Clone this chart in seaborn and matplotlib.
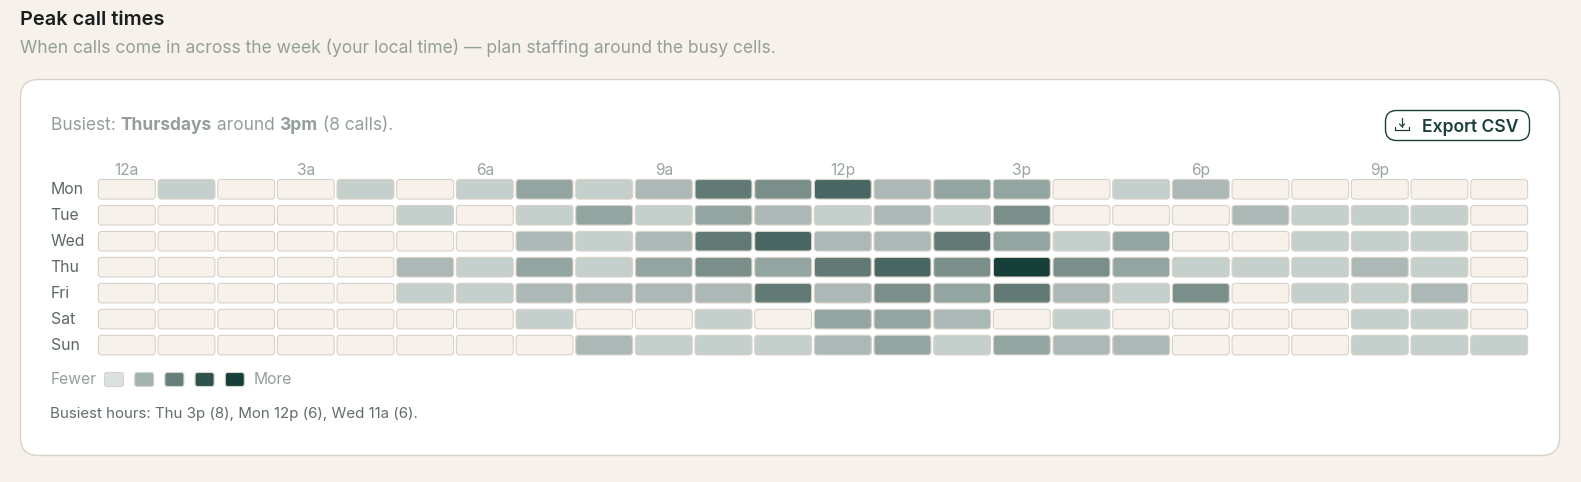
import numpy as np
import pandas as pd
import seaborn as sns
import matplotlib.pyplot as plt
from matplotlib.colors import ListedColormap
from matplotlib.patches import FancyBboxPatch

days = ['Mon', 'Tue', 'Wed', 'Thu', 'Fri', 'Sat', 'Sun']
hour_labels = ['12a', '', '', '3a', '', '', '6a', '', '', '9a', '', '',
               '12p', '', '', '3p', '', '', '6p', '', '', '9p', '', '']
mon = [0, 1, 0, 0, 1, 0, 1, 3, 1, 2, 5, 4, 6, 2, 3, 3, 0, 1, 2, 0, 0, 0, 0, 0]
tue = [0, 0, 0, 0, 0, 1, 0, 1, 3, 1, 3, 2, 1, 2, 1, 4, 0, 0, 0, 2, 1, 1, 1, 0]
wed = [0, 0, 0, 0, 0, 0, 0, 2, 1, 2, 5, 6, 2, 2, 5, 3, 1, 3, 0, 0, 1, 1, 1, 0]
thu = [0, 0, 0, 0, 0, 2, 1, 3, 1, 3, 4, 3, 5, 6, 4, 8, 4, 3, 1, 1, 1, 2, 1, 0]
fri = [0, 0, 0, 0, 0, 1, 1, 2, 2, 2, 2, 5, 2, 4, 3, 5, 2, 1, 4, 0, 1, 1, 2, 0]
sat = [0, 0, 0, 0, 0, 0, 0, 1, 0, 0, 1, 0, 3, 3, 2, 0, 1, 0, 0, 0, 0, 1, 1, 0]
sun = [0, 0, 0, 0, 0, 0, 0, 0, 2, 1, 1, 1, 2, 3, 1, 3, 2, 2, 0, 0, 0, 1, 1, 1]

count_colors = ['#f6f1ea', '#c5cfcc', '#abb8b6', '#93a5a1', '#7b8f8a',
                '#617a75', '#486762', '#2f524d', '#163f39']
legend_colors = ['#dbe1df', '#a3b2af', '#667f7b', '#2f524d', '#163f39']

BG = '#f6f1ea'
BORDER = '#d9d2c8'
MUTED = '#949e9a'
W, H = 1581, 482

sns.set_theme(style='white')
plt.rcParams['font.family'] = ['Inter', 'DejaVu Sans']


def px(size):
    return size * 72 / 100


df = pd.DataFrame([mon, tue, wed, thu, fri, sat, sun], index=days)

fig = plt.figure(figsize=(W / 100, H / 100), dpi=100, facecolor=BG)

# page furniture, in pixel coordinates
page = fig.add_axes([0, 0, 1, 1], zorder=0)
page.set_xlim(0, W)
page.set_ylim(H, 0)
page.axis('off')

page.add_patch(FancyBboxPatch((20.5, 79.5), 1539, 376, boxstyle='round,pad=0,rounding_size=18',
                              fc='white', ec=BORDER, lw=1))
page.text(20, 20, 'Peak call times', fontsize=px(20), fontweight='semibold',
          color='#1a1f1e', va='center')
page.text(20, 47.5, 'When calls come in across the week (your local time) \u2014 plan staffing around the busy cells.',
          fontsize=px(17.45), color=MUTED, va='center')

# sentence with mixed weights
x = 51
fig.canvas.draw()
for part, weight in [('Busiest: ', 'normal'), ('Thursdays', 'bold'), (' around ', 'normal'),
                     ('3pm', 'bold'), (' (8 calls).', 'normal')]:
    t = page.text(x, 125.5, part.replace(' ', '\u00a0'), fontsize=px(17.35), fontweight=weight,
                  color=MUTED, va='center')
    x = page.transData.inverted().transform(t.get_window_extent().get_points())[1, 0]

# export button
page.add_patch(FancyBboxPatch((1385.5, 110.5), 144, 30, boxstyle='round,pad=0,rounding_size=11',
                              fc='white', ec='#1c3f3a', lw=1))
page.plot([1395, 1395, 1409, 1409], [127, 130, 130, 127], color='#1c3f3a', lw=0.9)
page.plot([1402, 1402], [118, 126.5], color='#1c3f3a', lw=0.9)
page.plot([1399.5, 1402, 1404.5], [124, 126.5, 124], color='#1c3f3a', lw=0.9)
page.text(1422, 127, 'Export CSV', fontsize=px(17.5), fontweight='semibold', color='#1c3f3a', va='center')

# legend and footer
page.text(50.5, 380, 'Fewer', fontsize=px(15.6), color=MUTED, va='center')
for i, c in enumerate(legend_colors):
    page.add_patch(FancyBboxPatch((104.5 + i * 30.2, 372.5), 19, 14, boxstyle='round,pad=0,rounding_size=2.5',
                                  fc=c, ec='#d5d2ca', lw=0.8))
page.text(254, 380, 'More', fontsize=px(15.6), color=MUTED, va='center')
page.text(50.5, 414, 'Busiest hours: Thu 3p (8), Mon 12p (6), Wed 11a (6).', fontsize=px(15.07),
          color='#626c69', va='center')

# heatmap
left, top, grid_w, grid_h = 97, 176.3, 1432, 181.8
ax = fig.add_axes([left / W, 1 - (top + grid_h) / H, grid_w / W, grid_h / H], zorder=1)
ax.patch.set_alpha(0)
sns.heatmap(df, ax=ax, cmap=ListedColormap(count_colors), vmin=-0.5, vmax=8.5, cbar=False,
            linewidths=5, linecolor='white', xticklabels=hour_labels, yticklabels=days, square=False)
mesh = ax.collections[0]

unit_x, unit_y = grid_w / 24, grid_h / 7
inset_x, inset_y = 1.4 / unit_x, 3.2 / unit_y
for r, day in enumerate(days):
    for c in range(24):
        ax.add_patch(FancyBboxPatch((c + inset_x, r + inset_y), 1 - 2 * inset_x, 1 - 2 * inset_y,
                                    boxstyle=f'round,pad=0,rounding_size={3 / unit_x}',
                                    mutation_aspect=unit_x / unit_y,
                                    fc=mesh.cmap(mesh.norm(df.loc[day, c])), ec='#d8d1c7', lw=0.8))

ax.xaxis.tick_top()
ax.set_axisbelow(False)
ax.tick_params(axis='x', length=0, pad=-1, labelsize=px(15.5), labelcolor='#99a3a0', rotation=0)
ax.tick_params(axis='y', length=0, pad=0, labelsize=px(15.8), labelcolor='#5d6764', rotation=0)
ax.set_xlabel('')
ax.set_ylabel('')
for lab in ax.get_yticklabels():
    lab.set_ha('left')
    lab.set_x((50.5 - left) / grid_w)

fig.savefig('out.png', dpi=100, facecolor=BG)
